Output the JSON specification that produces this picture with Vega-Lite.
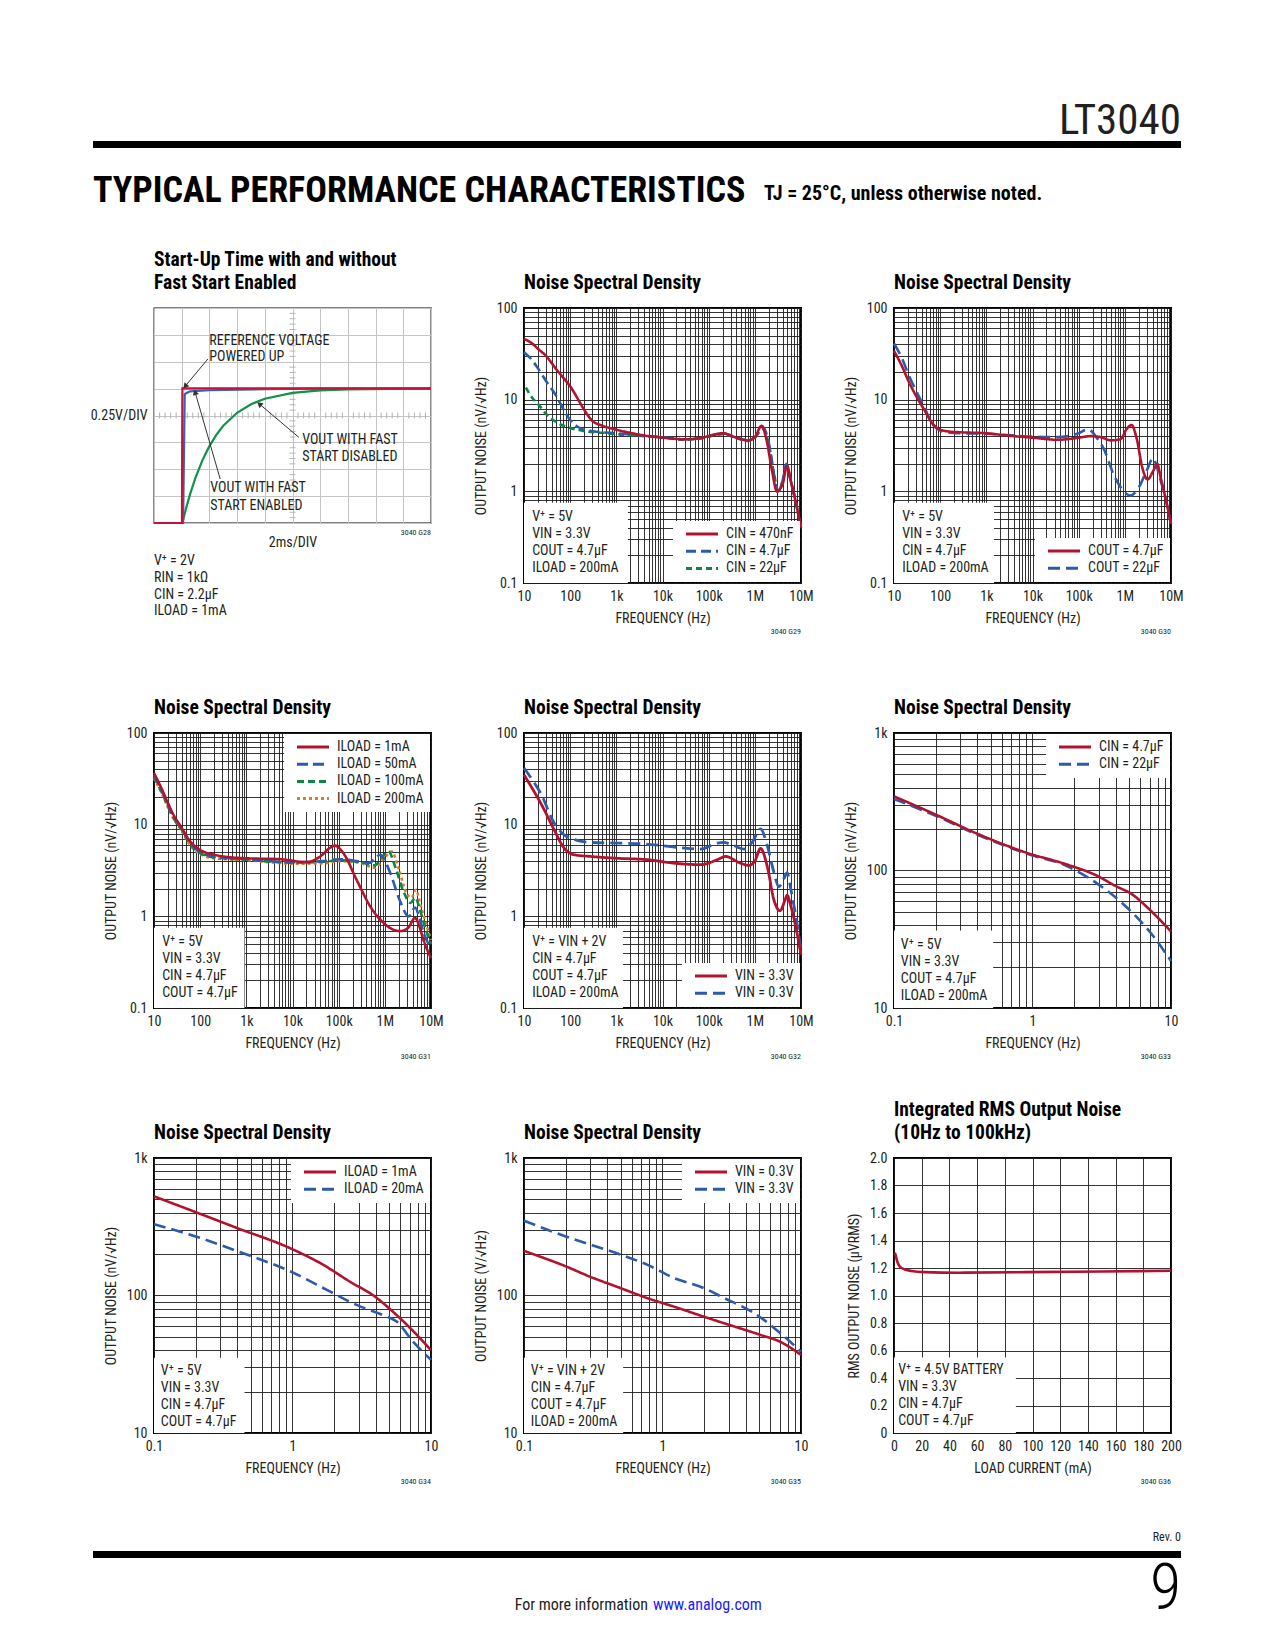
{
"$schema": "https://vega.github.io/schema/vega-lite/v6.json",
"background": "#ffffff",
"padding": {"left": 89, "top": 100, "right": 12, "bottom": 10},
"spacing": 0,
"config": {
 "font": "Liberation Sans Narrow, Roboto Condensed, DejaVu Sans Condensed, Arial Narrow, Roboto, sans-serif",
 "view": {"stroke": null},
 "axis": {"labelFont": "Liberation Sans Narrow, Roboto Condensed, DejaVu Sans Condensed, Arial Narrow, Roboto, sans-serif", "titleFont": "Liberation Sans Narrow, Roboto Condensed, DejaVu Sans Condensed, Arial Narrow, Roboto, sans-serif", "labelFontSize": 14, "titleFontSize": 14, "titleFontWeight": "normal", "labelColor": "#231f20", "titleColor": "#231f20", "domain": false, "ticks": false, "grid": true, "gridColor": "#1e1e1e", "gridWidth": 0.9, "gridOpacity": 1, "labelFlush": false, "labelOverlap": false},
 "title": {"anchor": "start", "frame": "group", "font": "Liberation Sans Narrow, Roboto Condensed, DejaVu Sans Condensed, Arial Narrow, Roboto, sans-serif", "fontSize": 19.5, "fontWeight": "bold", "color": "#000000", "baseline": "bottom", "offset": 8, "lineHeight": 23},
 "legend": {"labelFont": "Liberation Sans Narrow, Roboto Condensed, DejaVu Sans Condensed, Arial Narrow, Roboto, sans-serif", "labelFontSize": 14, "labelColor": "#231f20"},
 "text": {"font": "Liberation Sans Narrow, Roboto Condensed, DejaVu Sans Condensed, Arial Narrow, Roboto, sans-serif", "color": "#231f20"},
 "line": {"strokeCap": "butt"}
},
"datasets": {
 "g28": [
  {"s":"DIS","x":0,"y":0},{"s":"DIS","x":2.05,"y":0},{"s":"DIS","x":2.3,"y":0.129},{"s":"DIS","x":2.6,"y":0.266},{"s":"DIS","x":3,"y":0.423},{"s":"DIS","x":3.5,"y":0.585},{"s":"DIS","x":4,"y":0.715},{"s":"DIS","x":4.5,"y":0.819},{"s":"DIS","x":5,"y":0.904},{"s":"DIS","x":6,"y":1.025},{"s":"DIS","x":7,"y":1.105},{"s":"DIS","x":8,"y":1.156},{"s":"DIS","x":10,"y":1.211},{"s":"DIS","x":12,"y":1.234},{"s":"DIS","x":14,"y":1.243},{"s":"DIS","x":17,"y":1.248},{"s":"DIS","x":20,"y":1.25},
  {"s":"EN","x":0,"y":0},{"s":"EN","x":2.1,"y":0},{"s":"EN","x":2.22,"y":1.2},{"s":"EN","x":2.6,"y":1.225},{"s":"EN","x":4,"y":1.235},{"s":"EN","x":8,"y":1.245},{"s":"EN","x":12,"y":1.25},{"s":"EN","x":20,"y":1.25},
  {"s":"REF","x":0,"y":0},{"s":"REF","x":2.02,"y":0},{"s":"REF","x":2.05,"y":1.253},{"s":"REF","x":20,"y":1.253}
 ],
 "g28tx": [
  {"x":0.4,"y":1},{"x":0.8,"y":1},{"x":1.2,"y":1},{"x":1.6,"y":1},{"x":2.4,"y":1},{"x":2.8,"y":1},{"x":3.2,"y":1},{"x":3.6,"y":1},{"x":4.4,"y":1},{"x":4.8,"y":1},{"x":5.2,"y":1},{"x":5.6,"y":1},{"x":6.4,"y":1},{"x":6.8,"y":1},{"x":7.2,"y":1},{"x":7.6,"y":1},{"x":8.4,"y":1},{"x":8.8,"y":1},{"x":9.2,"y":1},{"x":9.6,"y":1},{"x":10.4,"y":1},{"x":10.8,"y":1},{"x":11.2,"y":1},{"x":11.6,"y":1},{"x":12.4,"y":1},{"x":12.8,"y":1},{"x":13.2,"y":1},{"x":13.6,"y":1},{"x":14.4,"y":1},{"x":14.8,"y":1},{"x":15.2,"y":1},{"x":15.6,"y":1},{"x":16.4,"y":1},{"x":16.8,"y":1},{"x":17.2,"y":1},{"x":17.6,"y":1},{"x":18.4,"y":1},{"x":18.8,"y":1},{"x":19.2,"y":1},{"x":19.6,"y":1}
 ],
 "g28ty": [
  {"x":10,"y":0.05},{"x":10,"y":0.1},{"x":10,"y":0.15},{"x":10,"y":0.2},{"x":10,"y":0.3},{"x":10,"y":0.35},{"x":10,"y":0.4},{"x":10,"y":0.45},{"x":10,"y":0.55},{"x":10,"y":0.6},{"x":10,"y":0.65},{"x":10,"y":0.7},{"x":10,"y":0.8},{"x":10,"y":0.85},{"x":10,"y":0.9},{"x":10,"y":0.95},{"x":10,"y":1.05},{"x":10,"y":1.1},{"x":10,"y":1.15},{"x":10,"y":1.2},{"x":10,"y":1.3},{"x":10,"y":1.35},{"x":10,"y":1.4},{"x":10,"y":1.45},{"x":10,"y":1.55},{"x":10,"y":1.6},{"x":10,"y":1.65},{"x":10,"y":1.7},{"x":10,"y":1.8},{"x":10,"y":1.85},{"x":10,"y":1.9},{"x":10,"y":1.95}
 ],
 "g29": [
  {"s":"CIN = 22µF","x":11,"y":13.5},{"s":"CIN = 22µF","x":15,"y":10.5},{"s":"CIN = 22µF","x":20,"y":9},{"s":"CIN = 22µF","x":30,"y":7},{"s":"CIN = 22µF","x":50,"y":5.7},{"s":"CIN = 22µF","x":100,"y":4.9},{"s":"CIN = 22µF","x":200,"y":4.55},{"s":"CIN = 22µF","x":500,"y":4.35},{"s":"CIN = 22µF","x":1000,"y":4.2},{"s":"CIN = 22µF","x":3000,"y":4.05},{"s":"CIN = 22µF","x":10000,"y":3.85},{"s":"CIN = 22µF","x":30000,"y":3.65},{"s":"CIN = 22µF","x":70000,"y":3.8},{"s":"CIN = 22µF","x":100000,"y":3.95},{"s":"CIN = 22µF","x":200000,"y":4.2},{"s":"CIN = 22µF","x":400000,"y":3.8},{"s":"CIN = 22µF","x":700000,"y":3.55},{"s":"CIN = 22µF","x":1000000,"y":3.85},{"s":"CIN = 22µF","x":1500000,"y":4.8},{"s":"CIN = 22µF","x":2000000,"y":3.3},{"s":"CIN = 22µF","x":2700000,"y":1.4},{"s":"CIN = 22µF","x":3200000,"y":1.0},{"s":"CIN = 22µF","x":4000000,"y":1.3},{"s":"CIN = 22µF","x":4800000,"y":1.9},{"s":"CIN = 22µF","x":6000000,"y":1.3},{"s":"CIN = 22µF","x":8000000,"y":0.7},{"s":"CIN = 22µF","x":10000000,"y":0.4},
  {"s":"CIN = 4.7µF","x":10,"y":33},{"s":"CIN = 4.7µF","x":15,"y":27},{"s":"CIN = 4.7µF","x":20,"y":22},{"s":"CIN = 4.7µF","x":30,"y":16},{"s":"CIN = 4.7µF","x":50,"y":11},{"s":"CIN = 4.7µF","x":70,"y":8},{"s":"CIN = 4.7µF","x":100,"y":6},{"s":"CIN = 4.7µF","x":150,"y":5},{"s":"CIN = 4.7µF","x":200,"y":4.7},{"s":"CIN = 4.7µF","x":400,"y":4.45},{"s":"CIN = 4.7µF","x":1000,"y":4.3},{"s":"CIN = 4.7µF","x":3000,"y":4.1},{"s":"CIN = 4.7µF","x":10000,"y":3.9},{"s":"CIN = 4.7µF","x":30000,"y":3.7},{"s":"CIN = 4.7µF","x":70000,"y":3.8},{"s":"CIN = 4.7µF","x":100000,"y":4.0},{"s":"CIN = 4.7µF","x":200000,"y":4.3},{"s":"CIN = 4.7µF","x":400000,"y":3.85},{"s":"CIN = 4.7µF","x":700000,"y":3.6},{"s":"CIN = 4.7µF","x":1000000,"y":3.9},{"s":"CIN = 4.7µF","x":1500000,"y":5.0},{"s":"CIN = 4.7µF","x":2000000,"y":3.4},{"s":"CIN = 4.7µF","x":2700000,"y":1.4},{"s":"CIN = 4.7µF","x":3200000,"y":1.0},{"s":"CIN = 4.7µF","x":4000000,"y":1.3},{"s":"CIN = 4.7µF","x":4800000,"y":2.0},{"s":"CIN = 4.7µF","x":6000000,"y":1.3},{"s":"CIN = 4.7µF","x":8000000,"y":0.7},{"s":"CIN = 4.7µF","x":10000000,"y":0.4},
  {"s":"CIN = 470nF","x":10,"y":46},{"s":"CIN = 470nF","x":15,"y":41},{"s":"CIN = 470nF","x":20,"y":36},{"s":"CIN = 470nF","x":30,"y":30},{"s":"CIN = 470nF","x":50,"y":21.5},{"s":"CIN = 470nF","x":70,"y":17.5},{"s":"CIN = 470nF","x":100,"y":14},{"s":"CIN = 470nF","x":150,"y":10},{"s":"CIN = 470nF","x":200,"y":7.8},{"s":"CIN = 470nF","x":300,"y":5.9},{"s":"CIN = 470nF","x":500,"y":5.2},{"s":"CIN = 470nF","x":1000,"y":4.7},{"s":"CIN = 470nF","x":2000,"y":4.35},{"s":"CIN = 470nF","x":5000,"y":4.0},{"s":"CIN = 470nF","x":10000,"y":3.85},{"s":"CIN = 470nF","x":30000,"y":3.7},{"s":"CIN = 470nF","x":70000,"y":3.85},{"s":"CIN = 470nF","x":100000,"y":4.0},{"s":"CIN = 470nF","x":200000,"y":4.3},{"s":"CIN = 470nF","x":400000,"y":3.85},{"s":"CIN = 470nF","x":700000,"y":3.6},{"s":"CIN = 470nF","x":1000000,"y":3.9},{"s":"CIN = 470nF","x":1400000,"y":5.2},{"s":"CIN = 470nF","x":1800000,"y":3.6},{"s":"CIN = 470nF","x":2400000,"y":1.6},{"s":"CIN = 470nF","x":3000000,"y":1.0},{"s":"CIN = 470nF","x":4000000,"y":1.2},{"s":"CIN = 470nF","x":5000000,"y":1.9},{"s":"CIN = 470nF","x":6000000,"y":1.3},{"s":"CIN = 470nF","x":8000000,"y":0.7},{"s":"CIN = 470nF","x":10000000,"y":0.4}
 ],
 "g30": [
  {"s":"COUT = 22µF","x":10,"y":41},{"s":"COUT = 22µF","x":15,"y":28},{"s":"COUT = 22µF","x":20,"y":19.5},{"s":"COUT = 22µF","x":30,"y":12.5},{"s":"COUT = 22µF","x":45,"y":8.3},{"s":"COUT = 22µF","x":70,"y":5.3},{"s":"COUT = 22µF","x":100,"y":4.6},{"s":"COUT = 22µF","x":150,"y":4.4},{"s":"COUT = 22µF","x":300,"y":4.3},{"s":"COUT = 22µF","x":1000,"y":4.25},{"s":"COUT = 22µF","x":3000,"y":4.1},{"s":"COUT = 22µF","x":10000,"y":3.95},{"s":"COUT = 22µF","x":35000,"y":3.9},{"s":"COUT = 22µF","x":100000,"y":4.3},{"s":"COUT = 22µF","x":160000,"y":4.75},{"s":"COUT = 22µF","x":250000,"y":3.8},{"s":"COUT = 22µF","x":350000,"y":2.9},{"s":"COUT = 22µF","x":580000,"y":1.5},{"s":"COUT = 22µF","x":950000,"y":1.0},{"s":"COUT = 22µF","x":1300000,"y":0.9},{"s":"COUT = 22µF","x":2000000,"y":1.1},{"s":"COUT = 22µF","x":3000000,"y":1.7},{"s":"COUT = 22µF","x":4100000,"y":2.3},{"s":"COUT = 22µF","x":5000000,"y":1.8},{"s":"COUT = 22µF","x":6000000,"y":1.3},{"s":"COUT = 22µF","x":8000000,"y":0.75},{"s":"COUT = 22µF","x":10000000,"y":0.44},
  {"s":"COUT = 4.7µF","x":10,"y":34},{"s":"COUT = 4.7µF","x":15,"y":23},{"s":"COUT = 4.7µF","x":20,"y":16.5},{"s":"COUT = 4.7µF","x":30,"y":11},{"s":"COUT = 4.7µF","x":45,"y":7.8},{"s":"COUT = 4.7µF","x":70,"y":5.4},{"s":"COUT = 4.7µF","x":100,"y":4.7},{"s":"COUT = 4.7µF","x":150,"y":4.5},{"s":"COUT = 4.7µF","x":300,"y":4.4},{"s":"COUT = 4.7µF","x":1000,"y":4.3},{"s":"COUT = 4.7µF","x":3000,"y":4.05},{"s":"COUT = 4.7µF","x":10000,"y":3.85},{"s":"COUT = 4.7µF","x":35000,"y":3.65},{"s":"COUT = 4.7µF","x":100000,"y":3.85},{"s":"COUT = 4.7µF","x":180000,"y":4.0},{"s":"COUT = 4.7µF","x":300000,"y":3.9},{"s":"COUT = 4.7µF","x":500000,"y":3.6},{"s":"COUT = 4.7µF","x":800000,"y":3.7},{"s":"COUT = 4.7µF","x":1100000,"y":4.8},{"s":"COUT = 4.7µF","x":1400000,"y":5.3},{"s":"COUT = 4.7µF","x":1800000,"y":3.8},{"s":"COUT = 4.7µF","x":2400000,"y":1.8},{"s":"COUT = 4.7µF","x":3100000,"y":1.35},{"s":"COUT = 4.7µF","x":4200000,"y":1.7},{"s":"COUT = 4.7µF","x":5000000,"y":2.0},{"s":"COUT = 4.7µF","x":6000000,"y":1.4},{"s":"COUT = 4.7µF","x":8000000,"y":0.75},{"s":"COUT = 4.7µF","x":10000000,"y":0.44}
 ],
 "g31": [
  {"s":"ILOAD = 200mA","x":10,"y":32},{"s":"ILOAD = 200mA","x":15,"y":21.5},{"s":"ILOAD = 200mA","x":20,"y":15.5},{"s":"ILOAD = 200mA","x":26,"y":11.8},{"s":"ILOAD = 200mA","x":40,"y":8.5},{"s":"ILOAD = 200mA","x":60,"y":6.0},{"s":"ILOAD = 200mA","x":100,"y":4.8},{"s":"ILOAD = 200mA","x":200,"y":4.3},{"s":"ILOAD = 200mA","x":1000,"y":4.1},{"s":"ILOAD = 200mA","x":10000,"y":3.75},{"s":"ILOAD = 200mA","x":50000,"y":3.8},{"s":"ILOAD = 200mA","x":100000,"y":4.0},{"s":"ILOAD = 200mA","x":300000,"y":3.8},{"s":"ILOAD = 200mA","x":600000,"y":3.4},{"s":"ILOAD = 200mA","x":1000000,"y":4.4},{"s":"ILOAD = 200mA","x":1400000,"y":5.1},{"s":"ILOAD = 200mA","x":2000000,"y":3.3},{"s":"ILOAD = 200mA","x":3000000,"y":1.75},{"s":"ILOAD = 200mA","x":3800000,"y":1.6},{"s":"ILOAD = 200mA","x":4700000,"y":1.95},{"s":"ILOAD = 200mA","x":6000000,"y":1.3},{"s":"ILOAD = 200mA","x":8000000,"y":0.8},{"s":"ILOAD = 200mA","x":10000000,"y":0.55},
  {"s":"ILOAD = 100mA","x":10,"y":33},{"s":"ILOAD = 100mA","x":15,"y":22},{"s":"ILOAD = 100mA","x":20,"y":16},{"s":"ILOAD = 100mA","x":26,"y":12},{"s":"ILOAD = 100mA","x":40,"y":8.8},{"s":"ILOAD = 100mA","x":60,"y":6.2},{"s":"ILOAD = 100mA","x":100,"y":4.9},{"s":"ILOAD = 100mA","x":200,"y":4.4},{"s":"ILOAD = 100mA","x":1000,"y":4.15},{"s":"ILOAD = 100mA","x":10000,"y":3.85},{"s":"ILOAD = 100mA","x":50000,"y":3.95},{"s":"ILOAD = 100mA","x":100000,"y":4.1},{"s":"ILOAD = 100mA","x":300000,"y":3.9},{"s":"ILOAD = 100mA","x":600000,"y":3.6},{"s":"ILOAD = 100mA","x":900000,"y":4.5},{"s":"ILOAD = 100mA","x":1200000,"y":5.1},{"s":"ILOAD = 100mA","x":1700000,"y":3.4},{"s":"ILOAD = 100mA","x":2500000,"y":1.9},{"s":"ILOAD = 100mA","x":3600000,"y":1.4},{"s":"ILOAD = 100mA","x":4600000,"y":1.6},{"s":"ILOAD = 100mA","x":5700000,"y":1.2},{"s":"ILOAD = 100mA","x":7500000,"y":0.75},{"s":"ILOAD = 100mA","x":10000000,"y":0.5},
  {"s":"ILOAD = 50mA","x":10,"y":35},{"s":"ILOAD = 50mA","x":15,"y":23},{"s":"ILOAD = 50mA","x":20,"y":16.5},{"s":"ILOAD = 50mA","x":26,"y":12.5},{"s":"ILOAD = 50mA","x":40,"y":9},{"s":"ILOAD = 50mA","x":60,"y":6.4},{"s":"ILOAD = 50mA","x":100,"y":5.0},{"s":"ILOAD = 50mA","x":200,"y":4.5},{"s":"ILOAD = 50mA","x":1000,"y":4.2},{"s":"ILOAD = 50mA","x":10000,"y":3.9},{"s":"ILOAD = 50mA","x":47000,"y":4.0},{"s":"ILOAD = 50mA","x":100000,"y":4.2},{"s":"ILOAD = 50mA","x":245000,"y":4.0},{"s":"ILOAD = 50mA","x":440000,"y":3.8},{"s":"ILOAD = 50mA","x":800000,"y":4.7},{"s":"ILOAD = 50mA","x":1300000,"y":3.0},{"s":"ILOAD = 50mA","x":2100000,"y":1.5},{"s":"ILOAD = 50mA","x":3300000,"y":1.0},{"s":"ILOAD = 50mA","x":4500000,"y":1.25},{"s":"ILOAD = 50mA","x":5500000,"y":1.0},{"s":"ILOAD = 50mA","x":6800000,"y":0.68},{"s":"ILOAD = 50mA","x":10000000,"y":0.45},
  {"s":"ILOAD = 1mA","x":10,"y":36.6},{"s":"ILOAD = 1mA","x":15,"y":24},{"s":"ILOAD = 1mA","x":20,"y":17.2},{"s":"ILOAD = 1mA","x":26,"y":13},{"s":"ILOAD = 1mA","x":40,"y":9.2},{"s":"ILOAD = 1mA","x":60,"y":6.6},{"s":"ILOAD = 1mA","x":100,"y":5.3},{"s":"ILOAD = 1mA","x":200,"y":4.7},{"s":"ILOAD = 1mA","x":316,"y":4.5},{"s":"ILOAD = 1mA","x":1000,"y":4.3},{"s":"ILOAD = 1mA","x":5400,"y":4.2},{"s":"ILOAD = 1mA","x":20000,"y":3.9},{"s":"ILOAD = 1mA","x":40000,"y":4.5},{"s":"ILOAD = 1mA","x":65000,"y":5.6},{"s":"ILOAD = 1mA","x":83000,"y":5.9},{"s":"ILOAD = 1mA","x":126000,"y":4.9},{"s":"ILOAD = 1mA","x":245000,"y":2.5},{"s":"ILOAD = 1mA","x":480000,"y":1.29},{"s":"ILOAD = 1mA","x":930000,"y":0.85},{"s":"ILOAD = 1mA","x":2100000,"y":0.69},{"s":"ILOAD = 1mA","x":3200000,"y":0.75},{"s":"ILOAD = 1mA","x":4500000,"y":0.96},{"s":"ILOAD = 1mA","x":5500000,"y":0.8},{"s":"ILOAD = 1mA","x":6800000,"y":0.56},{"s":"ILOAD = 1mA","x":10000000,"y":0.35}
 ],
 "g32": [
  {"s":"VIN = 0.3V","x":10,"y":41.5},{"s":"VIN = 0.3V","x":15,"y":31},{"s":"VIN = 0.3V","x":23,"y":22},{"s":"VIN = 0.3V","x":45,"y":10.4},{"s":"VIN = 0.3V","x":73,"y":7.8},{"s":"VIN = 0.3V","x":121,"y":6.9},{"s":"VIN = 0.3V","x":278,"y":6.4},{"s":"VIN = 0.3V","x":1000,"y":6.3},{"s":"VIN = 0.3V","x":3400,"y":6.2},{"s":"VIN = 0.3V","x":10000,"y":5.9},{"s":"VIN = 0.3V","x":25000,"y":5.6},{"s":"VIN = 0.3V","x":67000,"y":5.4},{"s":"VIN = 0.3V","x":155000,"y":6.3},{"s":"VIN = 0.3V","x":210000,"y":6.4},{"s":"VIN = 0.3V","x":355000,"y":5.9},{"s":"VIN = 0.3V","x":590000,"y":5.4},{"s":"VIN = 0.3V","x":890000,"y":6.5},{"s":"VIN = 0.3V","x":1330000,"y":9.0},{"s":"VIN = 0.3V","x":1860000,"y":5.9},{"s":"VIN = 0.3V","x":2600000,"y":3.0},{"s":"VIN = 0.3V","x":3300000,"y":2.1},{"s":"VIN = 0.3V","x":4300000,"y":2.6},{"s":"VIN = 0.3V","x":5000000,"y":3.0},{"s":"VIN = 0.3V","x":6000000,"y":2.0},{"s":"VIN = 0.3V","x":8000000,"y":0.9},{"s":"VIN = 0.3V","x":10000000,"y":0.42},
  {"s":"VIN = 3.3V","x":10,"y":35},{"s":"VIN = 3.3V","x":15,"y":25},{"s":"VIN = 3.3V","x":23,"y":17.2},{"s":"VIN = 3.3V","x":45,"y":8.8},{"s":"VIN = 3.3V","x":73,"y":5.6},{"s":"VIN = 3.3V","x":121,"y":4.7},{"s":"VIN = 3.3V","x":278,"y":4.5},{"s":"VIN = 3.3V","x":1000,"y":4.3},{"s":"VIN = 3.3V","x":4700,"y":4.15},{"s":"VIN = 3.3V","x":18000,"y":3.8},{"s":"VIN = 3.3V","x":67000,"y":3.66},{"s":"VIN = 3.3V","x":155000,"y":4.15},{"s":"VIN = 3.3V","x":230000,"y":4.5},{"s":"VIN = 3.3V","x":490000,"y":3.8},{"s":"VIN = 3.3V","x":740000,"y":3.6},{"s":"VIN = 3.3V","x":1000000,"y":4.0},{"s":"VIN = 3.3V","x":1330000,"y":5.5},{"s":"VIN = 3.3V","x":1860000,"y":3.5},{"s":"VIN = 3.3V","x":2600000,"y":1.5},{"s":"VIN = 3.3V","x":3500000,"y":1.15},{"s":"VIN = 3.3V","x":4500000,"y":1.5},{"s":"VIN = 3.3V","x":5000000,"y":1.7},{"s":"VIN = 3.3V","x":6000000,"y":1.3},{"s":"VIN = 3.3V","x":8000000,"y":0.7},{"s":"VIN = 3.3V","x":10000000,"y":0.38}
 ],
 "g33": [
  {"s":"CIN = 22µF","x":0.1,"y":331},{"s":"CIN = 22µF","x":0.2,"y":250},{"s":"CIN = 22µF","x":0.4,"y":182},{"s":"CIN = 22µF","x":0.9,"y":133},{"s":"CIN = 22µF","x":1.8,"y":107},{"s":"CIN = 22µF","x":2.9,"y":81},{"s":"CIN = 22µF","x":4.7,"y":55},{"s":"CIN = 22µF","x":7,"y":36},{"s":"CIN = 22µF","x":10,"y":22},
  {"s":"CIN = 4.7µF","x":0.1,"y":346},{"s":"CIN = 4.7µF","x":0.2,"y":255},{"s":"CIN = 4.7µF","x":0.4,"y":185},{"s":"CIN = 4.7µF","x":0.9,"y":135},{"s":"CIN = 4.7µF","x":1.8,"y":110},{"s":"CIN = 4.7µF","x":2.9,"y":92},{"s":"CIN = 4.7µF","x":4,"y":77},{"s":"CIN = 4.7µF","x":5.25,"y":67},{"s":"CIN = 4.7µF","x":7,"y":52},{"s":"CIN = 4.7µF","x":10,"y":36}
 ],
 "g34": [
  {"s":"ILOAD = 20mA","x":0.1,"y":330},{"s":"ILOAD = 20mA","x":0.2,"y":269},{"s":"ILOAD = 20mA","x":0.4,"y":210},{"s":"ILOAD = 20mA","x":0.96,"y":150},{"s":"ILOAD = 20mA","x":1.86,"y":107},{"s":"ILOAD = 20mA","x":2.9,"y":85.5},{"s":"ILOAD = 20mA","x":4.5,"y":72},{"s":"ILOAD = 20mA","x":5.65,"y":64.6},{"s":"ILOAD = 20mA","x":7.45,"y":46},{"s":"ILOAD = 20mA","x":10,"y":34},
  {"s":"ILOAD = 1mA","x":0.1,"y":526},{"s":"ILOAD = 1mA","x":0.2,"y":404},{"s":"ILOAD = 1mA","x":0.4,"y":309},{"s":"ILOAD = 1mA","x":0.96,"y":221},{"s":"ILOAD = 1mA","x":1.67,"y":167},{"s":"ILOAD = 1mA","x":2.6,"y":126},{"s":"ILOAD = 1mA","x":3.84,"y":100},{"s":"ILOAD = 1mA","x":5.65,"y":72},{"s":"ILOAD = 1mA","x":7.45,"y":55},{"s":"ILOAD = 1mA","x":10,"y":40}
 ],
 "g35": [
  {"s":"VIN = 3.3V","x":0.1,"y":350},{"s":"VIN = 3.3V","x":0.2,"y":269},{"s":"VIN = 3.3V","x":0.5,"y":198},{"s":"VIN = 3.3V","x":0.78,"y":167},{"s":"VIN = 3.3V","x":1.21,"y":134},{"s":"VIN = 3.3V","x":2,"y":113},{"s":"VIN = 3.3V","x":2.8,"y":95.6},{"s":"VIN = 3.3V","x":4.4,"y":76.4},{"s":"VIN = 3.3V","x":5.4,"y":66.5},{"s":"VIN = 3.3V","x":7.1,"y":53.2},{"s":"VIN = 3.3V","x":10,"y":39},
  {"s":"VIN = 0.3V","x":0.1,"y":211},{"s":"VIN = 0.3V","x":0.2,"y":163},{"s":"VIN = 0.3V","x":0.3,"y":137},{"s":"VIN = 0.3V","x":0.5,"y":113},{"s":"VIN = 0.3V","x":0.78,"y":95.6},{"s":"VIN = 0.3V","x":1.21,"y":83},{"s":"VIN = 0.3V","x":2,"y":70},{"s":"VIN = 0.3V","x":3.3,"y":59.5},{"s":"VIN = 0.3V","x":5.1,"y":51.7},{"s":"VIN = 0.3V","x":7.1,"y":46},{"s":"VIN = 0.3V","x":10,"y":37}
 ],
 "g36": [
  {"x":0.5,"y":1.31},{"x":1,"y":1.3},{"x":2.4,"y":1.244},{"x":5.4,"y":1.2},{"x":12.7,"y":1.178},{"x":22,"y":1.17},{"x":47,"y":1.166},{"x":96,"y":1.17},{"x":150,"y":1.175},{"x":200,"y":1.18}
 ]
},
"vconcat": [
 {"width": 1088, "height": 7, "data": {"values": []}, "mark": "point", "view": {"fill": "#000000", "stroke": null},
  "title": {"text": "LT3040", "anchor": "end", "fontSize": 43, "fontWeight": "normal", "color": "#231f20", "baseline": "bottom", "offset": -45}},
 {"width": 1, "height": 25, "data": {"values": []}, "mark": "point", "view": {"stroke": null}},
 {"hconcat": [
   {"width": 671, "height": 1, "data": {"values": []}, "mark": "point", "view": {"stroke": null},
    "title": {"text": "TYPICAL PERFORMANCE CHARACTERISTICS", "anchor": "start", "fontSize": 36, "fontWeight": "bold", "color": "#000000", "baseline": "bottom", "offset": -36}},
   {"width": 400, "height": 1, "data": {"values": []}, "mark": "point", "view": {"stroke": null},
    "title": {"text": "TJ = 25°C, unless otherwise noted.", "anchor": "start", "fontSize": 20, "fontWeight": "bold", "color": "#000000", "baseline": "bottom", "offset": -14}}
  ], "spacing": 0, "bounds": "flush"},
 {"width": 1, "height": 37, "data": {"values": []}, "mark": "point", "view": {"stroke": null}},
 {"hconcat": [
   {"width": 1, "height": 1, "data": {"values": []}, "mark": "point", "view": {"stroke": null}},
   {"concat": [
    {"width": 277, "height": 215, "view": {"stroke": "#000000", "strokeWidth": 1.3},
     "title": {"text": ["Start-Up Time with and without", "Fast Start Enabled"], "offset": 15},
     "encoding": {
      "x": {"field": "x", "type": "quantitative", "scale": {"domain": [0, 20], "nice": false, "zero": false}, "axis": {"title": "2ms/DIV", "values": [0,2,4,6,8,10,12,14,16,18,20], "labels": false, "gridColor": "#c4c4c4", "gridWidth": 1, "titlePadding": 12}},
      "y": {"field": "y", "type": "quantitative", "scale": {"domain": [0, 2], "nice": false, "zero": false}, "axis": {"title": "0.25V/DIV", "values": [0,0.25,0.5,0.75,1,1.25,1.5,1.75,2], "labels": false, "gridColor": "#c4c4c4", "gridWidth": 1, "titleAngle": 0, "titleAlign": "right", "titleBaseline": "middle", "titlePadding": 7}}
     },
     "layer": [
      {"data": {"name": "g28tx"}, "mark": {"type": "tick", "orient": "vertical", "size": 6, "thickness": 1, "color": "#b4b4b4", "opacity": 1}, "encoding": {}},
      {"data": {"name": "g28ty"}, "mark": {"type": "tick", "orient": "horizontal", "size": 6, "thickness": 1, "color": "#b4b4b4", "opacity": 1}, "encoding": {}},
      {"data": {"name": "g28"}, "mark": {"type": "line", "strokeWidth": 2.2},
       "encoding": {"color": {"field": "s", "type": "nominal", "scale": {"domain": ["DIS", "EN", "REF"], "range": ["#11924A", "#3A62B5", "#C4123A"]}, "legend": null}}},
      {"data": {"values": [{"x":3.99,"y":1.693,"t":"REFERENCE VOLTAGE"},{"x":3.99,"y":1.544,"t":"POWERED UP"},{"x":10.7,"y":0.772,"t":"VOUT WITH FAST"},{"x":10.7,"y":0.611,"t":"START DISABLED"},{"x":4.06,"y":0.323,"t":"VOUT WITH FAST"},{"x":4.06,"y":0.161,"t":"START ENABLED"}]},
       "mark": {"type": "text", "align": "left", "baseline": "middle", "fontSize": 14},
       "encoding": {"text": {"field": "t"}}},
      {"data": {"values": [{"x":3.89,"y":1.526,"x2":2.25,"y2":1.272},{"x":10.46,"y":0.797,"x2":7.61,"y2":1.107},{"x":4.78,"y":0.409,"x2":2.97,"y2":1.216}]},
       "mark": {"type": "rule", "color": "#333333", "strokeWidth": 1},
       "encoding": {"x2": {"field": "x2"}, "y2": {"field": "y2"}}},
      {"data": {"values": [{"x":2.25,"y":1.272}]}, "mark": {"type": "point", "shape": "triangle-up", "filled": true, "size": 40, "angle": 220, "color": "#333333", "opacity": 1}, "encoding": {}},
      {"data": {"values": [{"x":7.61,"y":1.107}]}, "mark": {"type": "point", "shape": "triangle-up", "filled": true, "size": 40, "angle": 310, "color": "#333333", "opacity": 1}, "encoding": {}},
      {"data": {"values": [{"x":2.97,"y":1.216}]}, "mark": {"type": "point", "shape": "triangle-up", "filled": true, "size": 40, "angle": 344, "color": "#333333", "opacity": 1}, "encoding": {}},
      {"data": {"values": [{"x":0,"y":-0.29,"t":"V⁺ = 2V\nRIN = 1kΩ\nCIN = 2.2µF\nILOAD = 1mA"}]},
       "mark": {"type": "text", "align": "left", "baseline": "top", "fontSize": 14, "lineHeight": 16.7, "lineBreak": "\n"},
       "encoding": {"text": {"field": "t"}}},
      {"data": {"values": [{"x":20,"y":-0.093,"t":"3040 G28"}]},
       "mark": {"type": "text", "align": "right", "baseline": "middle", "fontSize": 8},
       "encoding": {"text": {"field": "t"}}}
     ]},
    {"width": 277, "height": 275, "view": {"stroke": "#000000", "strokeWidth": 2},
     "title": "Noise Spectral Density",
     "encoding": {
      "x": {"field": "x", "type": "quantitative", "scale": {"type": "log", "domain": [10, 10000000], "nice": false}, "axis": {"title": "FREQUENCY (Hz)", "values": [10,20,30,40,50,60,70,80,90,100,200,300,400,500,600,700,800,900,1000,2000,3000,4000,5000,6000,7000,8000,9000,10000,20000,30000,40000,50000,60000,70000,80000,90000,100000,200000,300000,400000,500000,600000,700000,800000,900000,1000000,2000000,3000000,4000000,5000000,6000000,7000000,8000000,9000000,10000000], "labelExpr": "datum.value==10?'10':datum.value==100?'100':datum.value==1000?'1k':datum.value==10000?'10k':datum.value==100000?'100k':datum.value==1000000?'1M':datum.value==10000000?'10M':''", "labelPadding": 6, "titlePadding": 8}},
      "y": {"field": "y", "type": "quantitative", "scale": {"type": "log", "domain": [0.1, 100], "nice": false}, "axis": {"title": "OUTPUT NOISE (nV/√Hz)", "values": [0.1,0.2,0.3,0.4,0.5,0.6,0.7,0.8,0.9,1,2,3,4,5,6,7,8,9,10,20,30,40,50,60,70,80,90,100], "labelExpr": "datum.value==0.1?'0.1':datum.value==1?'1':datum.value==10?'10':datum.value==100?'100':''", "labelPadding": 7, "titlePadding": 8}}
     },
     "layer": [
      {"data": {"values": [{"x": 10, "x2": 1780, "y": 0.1, "y2": 0.75}]}, "mark": {"type": "rect", "color": "#ffffff"},
       "encoding": {"x2": {"field": "x2"}, "y2": {"field": "y2"}}},
      {"data": {"name": "g29"}, "mark": {"type": "line", "interpolate": "monotone", "strokeWidth": 2.6},
       "encoding": {
        "color": {"field": "s", "type": "nominal", "scale": {"domain": ["CIN = 470nF", "CIN = 4.7µF", "CIN = 22µF"], "range": ["#B3122E", "#2D5BAA", "#0B8743"]},
         "legend": {"orient": "bottom-right", "title": null, "fillColor": "#ffffff", "padding": 6, "offset": 1, "symbolType": "M0,0H8", "symbolSize": 64, "symbolStrokeWidth": 3, "labelOffset": 33, "rowPadding": 3.2, "labelFontSize": 14, "labelLimit": 0}},
        "strokeDash": {"field": "s", "type": "nominal", "scale": {"domain": ["CIN = 470nF", "CIN = 4.7µF", "CIN = 22µF"], "range": [[1,0],[10,5],[6,4]]}}}},
      {"data": {"values": [{"x": 15, "y": 0.63, "t": "V⁺ = 5V\nVIN = 3.3V\nCOUT = 4.7µF\nILOAD = 200mA"}]},
       "mark": {"type": "text", "align": "left", "baseline": "top", "fontSize": 14, "lineHeight": 17, "lineBreak": "\n"},
       "encoding": {"text": {"field": "t"}}},
      {"data": {"values": [{"x": 10000000, "y": 0.029, "t": "3040 G29"}]},
       "mark": {"type": "text", "align": "right", "baseline": "middle", "fontSize": 8},
       "encoding": {"text": {"field": "t"}}}
     ]},
    {"width": 277, "height": 275, "view": {"stroke": "#000000", "strokeWidth": 2},
     "title": "Noise Spectral Density",
     "encoding": {
      "x": {"field": "x", "type": "quantitative", "scale": {"type": "log", "domain": [10, 10000000], "nice": false}, "axis": {"title": "FREQUENCY (Hz)", "values": [10,20,30,40,50,60,70,80,90,100,200,300,400,500,600,700,800,900,1000,2000,3000,4000,5000,6000,7000,8000,9000,10000,20000,30000,40000,50000,60000,70000,80000,90000,100000,200000,300000,400000,500000,600000,700000,800000,900000,1000000,2000000,3000000,4000000,5000000,6000000,7000000,8000000,9000000,10000000], "labelExpr": "datum.value==10?'10':datum.value==100?'100':datum.value==1000?'1k':datum.value==10000?'10k':datum.value==100000?'100k':datum.value==1000000?'1M':datum.value==10000000?'10M':''", "labelPadding": 6, "titlePadding": 8}},
      "y": {"field": "y", "type": "quantitative", "scale": {"type": "log", "domain": [0.1, 100], "nice": false}, "axis": {"title": "OUTPUT NOISE (nV/√Hz)", "values": [0.1,0.2,0.3,0.4,0.5,0.6,0.7,0.8,0.9,1,2,3,4,5,6,7,8,9,10,20,30,40,50,60,70,80,90,100], "labelExpr": "datum.value==0.1?'0.1':datum.value==1?'1':datum.value==10?'10':datum.value==100?'100':''", "labelPadding": 7, "titlePadding": 8}}
     },
     "layer": [
      {"data": {"values": [{"x": 10, "x2": 1470, "y": 0.1, "y2": 0.75}]}, "mark": {"type": "rect", "color": "#ffffff"},
       "encoding": {"x2": {"field": "x2"}, "y2": {"field": "y2"}}},
      {"data": {"name": "g30"}, "mark": {"type": "line", "interpolate": "monotone", "strokeWidth": 2.6},
       "encoding": {
        "color": {"field": "s", "type": "nominal", "scale": {"domain": ["COUT = 4.7µF", "COUT = 22µF"], "range": ["#B3122E", "#2D5BAA"]},
         "legend": {"orient": "bottom-right", "title": null, "fillColor": "#ffffff", "padding": 6, "offset": 1, "symbolType": "M0,0H8", "symbolSize": 64, "symbolStrokeWidth": 3, "labelOffset": 33, "rowPadding": 3.2, "labelFontSize": 14, "labelLimit": 0}},
        "strokeDash": {"field": "s", "type": "nominal", "scale": {"domain": ["COUT = 4.7µF", "COUT = 22µF"], "range": [[1,0],[12,6]]}}}},
      {"data": {"values": [{"x": 15, "y": 0.63, "t": "V⁺ = 5V\nVIN = 3.3V\nCIN = 4.7µF\nILOAD = 200mA"}]},
       "mark": {"type": "text", "align": "left", "baseline": "top", "fontSize": 14, "lineHeight": 17, "lineBreak": "\n"},
       "encoding": {"text": {"field": "t"}}},
      {"data": {"values": [{"x": 10000000, "y": 0.029, "t": "3040 G30"}]},
       "mark": {"type": "text", "align": "right", "baseline": "middle", "fontSize": 8},
       "encoding": {"text": {"field": "t"}}}
     ]},
    {"width": 277, "height": 275, "view": {"stroke": "#000000", "strokeWidth": 2},
     "title": "Noise Spectral Density",
     "encoding": {
      "x": {"field": "x", "type": "quantitative", "scale": {"type": "log", "domain": [10, 10000000], "nice": false}, "axis": {"title": "FREQUENCY (Hz)", "values": [10,20,30,40,50,60,70,80,90,100,200,300,400,500,600,700,800,900,1000,2000,3000,4000,5000,6000,7000,8000,9000,10000,20000,30000,40000,50000,60000,70000,80000,90000,100000,200000,300000,400000,500000,600000,700000,800000,900000,1000000,2000000,3000000,4000000,5000000,6000000,7000000,8000000,9000000,10000000], "labelExpr": "datum.value==10?'10':datum.value==100?'100':datum.value==1000?'1k':datum.value==10000?'10k':datum.value==100000?'100k':datum.value==1000000?'1M':datum.value==10000000?'10M':''", "labelPadding": 6, "titlePadding": 8}},
      "y": {"field": "y", "type": "quantitative", "scale": {"type": "log", "domain": [0.1, 100], "nice": false}, "axis": {"title": "OUTPUT NOISE (nV/√Hz)", "values": [0.1,0.2,0.3,0.4,0.5,0.6,0.7,0.8,0.9,1,2,3,4,5,6,7,8,9,10,20,30,40,50,60,70,80,90,100], "labelExpr": "datum.value==0.1?'0.1':datum.value==1?'1':datum.value==10?'10':datum.value==100?'100':''", "labelPadding": 7, "titlePadding": 8}}
     },
     "layer": [
      {"data": {"values": [{"x": 10, "x2": 910, "y": 0.1, "y2": 0.75}]}, "mark": {"type": "rect", "color": "#ffffff"},
       "encoding": {"x2": {"field": "x2"}, "y2": {"field": "y2"}}},
      {"data": {"name": "g31"}, "mark": {"type": "line", "interpolate": "monotone", "strokeWidth": 2.6},
       "encoding": {
        "color": {"field": "s", "type": "nominal", "scale": {"domain": ["ILOAD = 1mA", "ILOAD = 50mA", "ILOAD = 100mA", "ILOAD = 200mA"], "range": ["#B3122E", "#2D5BAA", "#0B8743", "#DD7A2C"]},
         "legend": {"orient": "top-right", "title": null, "fillColor": "#ffffff", "padding": 6, "offset": 1, "symbolType": "M0,0H8", "symbolSize": 64, "symbolStrokeWidth": 3, "labelOffset": 33, "rowPadding": 3.2, "labelFontSize": 14, "labelLimit": 0}},
        "strokeDash": {"field": "s", "type": "nominal", "scale": {"domain": ["ILOAD = 1mA", "ILOAD = 50mA", "ILOAD = 100mA", "ILOAD = 200mA"], "range": [[1,0],[11,5],[7,4],[3,3]]}}}},
      {"data": {"values": [{"x": 15, "y": 0.63, "t": "V⁺ = 5V\nVIN = 3.3V\nCIN = 4.7µF\nCOUT = 4.7µF"}]},
       "mark": {"type": "text", "align": "left", "baseline": "top", "fontSize": 14, "lineHeight": 17, "lineBreak": "\n"},
       "encoding": {"text": {"field": "t"}}},
      {"data": {"values": [{"x": 10000000, "y": 0.029, "t": "3040 G31"}]},
       "mark": {"type": "text", "align": "right", "baseline": "middle", "fontSize": 8},
       "encoding": {"text": {"field": "t"}}}
     ]},
    {"width": 277, "height": 275, "view": {"stroke": "#000000", "strokeWidth": 2},
     "title": "Noise Spectral Density",
     "encoding": {
      "x": {"field": "x", "type": "quantitative", "scale": {"type": "log", "domain": [10, 10000000], "nice": false}, "axis": {"title": "FREQUENCY (Hz)", "values": [10,20,30,40,50,60,70,80,90,100,200,300,400,500,600,700,800,900,1000,2000,3000,4000,5000,6000,7000,8000,9000,10000,20000,30000,40000,50000,60000,70000,80000,90000,100000,200000,300000,400000,500000,600000,700000,800000,900000,1000000,2000000,3000000,4000000,5000000,6000000,7000000,8000000,9000000,10000000], "labelExpr": "datum.value==10?'10':datum.value==100?'100':datum.value==1000?'1k':datum.value==10000?'10k':datum.value==100000?'100k':datum.value==1000000?'1M':datum.value==10000000?'10M':''", "labelPadding": 6, "titlePadding": 8}},
      "y": {"field": "y", "type": "quantitative", "scale": {"type": "log", "domain": [0.1, 100], "nice": false}, "axis": {"title": "OUTPUT NOISE (nV/√Hz)", "values": [0.1,0.2,0.3,0.4,0.5,0.6,0.7,0.8,0.9,1,2,3,4,5,6,7,8,9,10,20,30,40,50,60,70,80,90,100], "labelExpr": "datum.value==0.1?'0.1':datum.value==1?'1':datum.value==10?'10':datum.value==100?'100':''", "labelPadding": 7, "titlePadding": 8}}
     },
     "layer": [
      {"data": {"values": [{"x": 10, "x2": 1390, "y": 0.1, "y2": 0.75}]}, "mark": {"type": "rect", "color": "#ffffff"},
       "encoding": {"x2": {"field": "x2"}, "y2": {"field": "y2"}}},
      {"data": {"name": "g32"}, "mark": {"type": "line", "interpolate": "monotone", "strokeWidth": 2.8},
       "encoding": {
        "color": {"field": "s", "type": "nominal", "scale": {"domain": ["VIN = 3.3V", "VIN = 0.3V"], "range": ["#B3122E", "#2D5BAA"]},
         "legend": {"orient": "bottom-right", "title": null, "fillColor": "#ffffff", "padding": 6, "offset": 1, "symbolType": "M0,0H8", "symbolSize": 64, "symbolStrokeWidth": 3, "labelOffset": 33, "rowPadding": 3.2, "labelFontSize": 14, "labelLimit": 0}},
        "strokeDash": {"field": "s", "type": "nominal", "scale": {"domain": ["VIN = 3.3V", "VIN = 0.3V"], "range": [[1,0],[12,6]]}}}},
      {"data": {"values": [{"x": 15, "y": 0.63, "t": "V⁺ = VIN + 2V\nCIN = 4.7µF\nCOUT = 4.7µF\nILOAD = 200mA"}]},
       "mark": {"type": "text", "align": "left", "baseline": "top", "fontSize": 14, "lineHeight": 17, "lineBreak": "\n"},
       "encoding": {"text": {"field": "t"}}},
      {"data": {"values": [{"x": 10000000, "y": 0.029, "t": "3040 G32"}]},
       "mark": {"type": "text", "align": "right", "baseline": "middle", "fontSize": 8},
       "encoding": {"text": {"field": "t"}}}
     ]},
    {"width": 277, "height": 275, "view": {"stroke": "#000000", "strokeWidth": 2},
     "title": "Noise Spectral Density",
     "encoding": {
      "x": {"field": "x", "type": "quantitative", "scale": {"type": "log", "domain": [0.1, 10], "nice": false}, "axis": {"title": "FREQUENCY (Hz)", "values": [0.1,0.2,0.3,0.4,0.5,0.6,0.7,0.8,0.9,1,2,3,4,5,6,7,8,9,10], "labelExpr": "datum.value==0.1?'0.1':datum.value==1?'1':datum.value==10?'10':''", "labelPadding": 6, "titlePadding": 8}},
      "y": {"field": "y", "type": "quantitative", "scale": {"type": "log", "domain": [10, 1000], "nice": false}, "axis": {"title": "OUTPUT NOISE (nV/√Hz)", "values": [10,20,30,40,50,60,70,80,90,100,200,300,400,500,600,700,800,900,1000], "labelExpr": "datum.value==10?'10':datum.value==100?'100':datum.value==1000?'1k':''", "labelPadding": 7, "titlePadding": 8}}
     },
     "layer": [
      {"data": {"values": [{"x": 0.1, "x2": 0.52, "y": 10, "y2": 36.6}]}, "mark": {"type": "rect", "color": "#ffffff"},
       "encoding": {"x2": {"field": "x2"}, "y2": {"field": "y2"}}},
      {"data": {"name": "g33"}, "mark": {"type": "line", "interpolate": "monotone", "strokeWidth": 2.6},
       "encoding": {
        "color": {"field": "s", "type": "nominal", "scale": {"domain": ["CIN = 4.7µF", "CIN = 22µF"], "range": ["#B3122E", "#2D5BAA"]},
         "legend": {"orient": "top-right", "title": null, "fillColor": "#ffffff", "padding": 6, "offset": 1, "symbolType": "M0,0H8", "symbolSize": 64, "symbolStrokeWidth": 3, "labelOffset": 33, "rowPadding": 3.2, "labelFontSize": 14, "labelLimit": 0}},
        "strokeDash": {"field": "s", "type": "nominal", "scale": {"domain": ["CIN = 4.7µF", "CIN = 22µF"], "range": [[1,0],[12,6]]}}}},
      {"data": {"values": [{"x": 0.112, "y": 32.5, "t": "V⁺ = 5V\nVIN = 3.3V\nCOUT = 4.7µF\nILOAD = 200mA"}]},
       "mark": {"type": "text", "align": "left", "baseline": "top", "fontSize": 14, "lineHeight": 17, "lineBreak": "\n"},
       "encoding": {"text": {"field": "t"}}},
      {"data": {"values": [{"x": 10, "y": 4.4, "t": "3040 G33"}]},
       "mark": {"type": "text", "align": "right", "baseline": "middle", "fontSize": 8},
       "encoding": {"text": {"field": "t"}}}
     ]},
    {"width": 277, "height": 275, "view": {"stroke": "#000000", "strokeWidth": 2},
     "title": "Noise Spectral Density",
     "encoding": {
      "x": {"field": "x", "type": "quantitative", "scale": {"type": "log", "domain": [0.1, 10], "nice": false}, "axis": {"title": "FREQUENCY (Hz)", "values": [0.1,0.2,0.3,0.4,0.5,0.6,0.7,0.8,0.9,1,2,3,4,5,6,7,8,9,10], "labelExpr": "datum.value==0.1?'0.1':datum.value==1?'1':datum.value==10?'10':''", "labelPadding": 6, "titlePadding": 8}},
      "y": {"field": "y", "type": "quantitative", "scale": {"type": "log", "domain": [10, 1000], "nice": false}, "axis": {"title": "OUTPUT NOISE (nV/√Hz)", "values": [10,20,30,40,50,60,70,80,90,100,200,300,400,500,600,700,800,900,1000], "labelExpr": "datum.value==10?'10':datum.value==100?'100':datum.value==1000?'1k':''", "labelPadding": 7, "titlePadding": 8}}
     },
     "layer": [
      {"data": {"values": [{"x": 0.1, "x2": 0.45, "y": 10, "y2": 35.3}]}, "mark": {"type": "rect", "color": "#ffffff"},
       "encoding": {"x2": {"field": "x2"}, "y2": {"field": "y2"}}},
      {"data": {"name": "g34"}, "mark": {"type": "line", "interpolate": "monotone", "strokeWidth": 2.6},
       "encoding": {
        "color": {"field": "s", "type": "nominal", "scale": {"domain": ["ILOAD = 1mA", "ILOAD = 20mA"], "range": ["#B3122E", "#2D5BAA"]},
         "legend": {"orient": "top-right", "title": null, "fillColor": "#ffffff", "padding": 6, "offset": 1, "symbolType": "M0,0H8", "symbolSize": 64, "symbolStrokeWidth": 3, "labelOffset": 33, "rowPadding": 3.2, "labelFontSize": 14, "labelLimit": 0}},
        "strokeDash": {"field": "s", "type": "nominal", "scale": {"domain": ["ILOAD = 1mA", "ILOAD = 20mA"], "range": [[1,0],[12,6]]}}}},
      {"data": {"values": [{"x": 0.112, "y": 31.5, "t": "V⁺ = 5V\nVIN = 3.3V\nCIN = 4.7µF\nCOUT = 4.7µF"}]},
       "mark": {"type": "text", "align": "left", "baseline": "top", "fontSize": 14, "lineHeight": 17, "lineBreak": "\n"},
       "encoding": {"text": {"field": "t"}}},
      {"data": {"values": [{"x": 10, "y": 4.4, "t": "3040 G34"}]},
       "mark": {"type": "text", "align": "right", "baseline": "middle", "fontSize": 8},
       "encoding": {"text": {"field": "t"}}}
     ]},
    {"width": 277, "height": 275, "view": {"stroke": "#000000", "strokeWidth": 2},
     "title": "Noise Spectral Density",
     "encoding": {
      "x": {"field": "x", "type": "quantitative", "scale": {"type": "log", "domain": [0.1, 10], "nice": false}, "axis": {"title": "FREQUENCY (Hz)", "values": [0.1,0.2,0.3,0.4,0.5,0.6,0.7,0.8,0.9,1,2,3,4,5,6,7,8,9,10], "labelExpr": "datum.value==0.1?'0.1':datum.value==1?'1':datum.value==10?'10':''", "labelPadding": 6, "titlePadding": 8}},
      "y": {"field": "y", "type": "quantitative", "scale": {"type": "log", "domain": [10, 1000], "nice": false}, "axis": {"title": "OUTPUT NOISE (V/√Hz)", "values": [10,20,30,40,50,60,70,80,90,100,200,300,400,500,600,700,800,900,1000], "labelExpr": "datum.value==10?'10':datum.value==100?'100':datum.value==1000?'1k':''", "labelPadding": 7, "titlePadding": 8}}
     },
     "layer": [
      {"data": {"values": [{"x": 0.1, "x2": 0.52, "y": 10, "y2": 35.3}]}, "mark": {"type": "rect", "color": "#ffffff"},
       "encoding": {"x2": {"field": "x2"}, "y2": {"field": "y2"}}},
      {"data": {"name": "g35"}, "mark": {"type": "line", "interpolate": "monotone", "strokeWidth": 2.6},
       "encoding": {
        "color": {"field": "s", "type": "nominal", "scale": {"domain": ["VIN = 0.3V", "VIN = 3.3V"], "range": ["#B3122E", "#2D5BAA"]},
         "legend": {"orient": "top-right", "title": null, "fillColor": "#ffffff", "padding": 6, "offset": 1, "symbolType": "M0,0H8", "symbolSize": 64, "symbolStrokeWidth": 3, "labelOffset": 33, "rowPadding": 3.2, "labelFontSize": 14, "labelLimit": 0}},
        "strokeDash": {"field": "s", "type": "nominal", "scale": {"domain": ["VIN = 0.3V", "VIN = 3.3V"], "range": [[1,0],[12,6]]}}}},
      {"data": {"values": [{"x": 0.112, "y": 31.5, "t": "V⁺ = VIN + 2V\nCIN = 4.7µF\nCOUT = 4.7µF\nILOAD = 200mA"}]},
       "mark": {"type": "text", "align": "left", "baseline": "top", "fontSize": 14, "lineHeight": 17, "lineBreak": "\n"},
       "encoding": {"text": {"field": "t"}}},
      {"data": {"values": [{"x": 10, "y": 4.4, "t": "3040 G35"}]},
       "mark": {"type": "text", "align": "right", "baseline": "middle", "fontSize": 8},
       "encoding": {"text": {"field": "t"}}}
     ]},
    {"width": 277, "height": 275, "view": {"stroke": "#000000", "strokeWidth": 2},
     "title": {"text": ["Integrated RMS Output Noise", "(10Hz to 100kHz)"]},
     "encoding": {
      "x": {"field": "x", "type": "quantitative", "scale": {"domain": [0, 200], "nice": false, "zero": false}, "axis": {"title": "LOAD CURRENT (mA)", "values": [0,20,40,60,80,100,120,140,160,180,200], "labelPadding": 6, "titlePadding": 8}},
      "y": {"field": "y", "type": "quantitative", "scale": {"domain": [0, 2], "nice": false, "zero": false}, "axis": {"title": "RMS OUTPUT NOISE (µVRMS)", "values": [0,0.2,0.4,0.6,0.8,1,1.2,1.4,1.6,1.8,2], "labelExpr": "datum.value==0?'0':format(datum.value,'.1f')", "labelPadding": 7, "titlePadding": 8}}
     },
     "layer": [
      {"data": {"values": [{"x": 0, "x2": 88, "y": 0, "y2": 0.55}]}, "mark": {"type": "rect", "color": "#ffffff"},
       "encoding": {"x2": {"field": "x2"}, "y2": {"field": "y2"}}},
      {"data": {"name": "g36"}, "mark": {"type": "line", "interpolate": "monotone", "strokeWidth": 2.6, "color": "#B3122E"}, "encoding": {}},
      {"data": {"values": [{"x": 3, "y": 0.51, "t": "V⁺ = 4.5V BATTERY\nVIN = 3.3V\nCIN = 4.7µF\nCOUT = 4.7µF"}]},
       "mark": {"type": "text", "align": "left", "baseline": "top", "fontSize": 14, "lineHeight": 17, "lineBreak": "\n"},
       "encoding": {"text": {"field": "t"}}},
      {"data": {"values": [{"x": 200, "y": -0.356, "t": "3040 G36"}]},
       "mark": {"type": "text", "align": "right", "baseline": "middle", "fontSize": 8},
       "encoding": {"text": {"field": "t"}}}
     ]}
   ], "columns": 3, "spacing": {"row": 150, "column": 93}, "bounds": "flush",
   "resolve": {"scale": {"color": "independent", "strokeDash": "independent"}}}
  ], "spacing": 60, "bounds": "flush"},
 {"width": 1, "height": 42, "data": {"values": []}, "mark": "point", "view": {"stroke": null}},
 {"width": 1088, "height": 7, "data": {"values": []}, "mark": "point", "view": {"fill": "#000000", "stroke": null},
  "title": {"text": "Rev. 0", "anchor": "end", "fontSize": 12, "fontWeight": "normal", "color": "#231f20", "baseline": "bottom", "offset": -4.5}},
 {"width": 1088, "height": 60, "view": {"stroke": null},
  "layer": [
   {"data": {"values": [{"t": "9"}]}, "mark": {"type": "text", "align": "right", "baseline": "alphabetic", "fontSize": 64, "fontWeight": 300, "color": "#000000"},
    "encoding": {"x": {"datum": 1, "type": "quantitative", "scale": {"domain": [0, 1]}, "axis": null}, "y": {"datum": 0.15, "type": "quantitative", "scale": {"domain": [0, 1]}, "axis": null}, "text": {"field": "t"}}},
   {"data": {"values": [{"t": "For more information"}]}, "mark": {"type": "text", "align": "right", "baseline": "alphabetic", "fontSize": 16, "dx": -2, "color": "#231f20"},
    "encoding": {"x": {"datum": 0.512, "type": "quantitative", "scale": {"domain": [0, 1]}, "axis": null}, "y": {"datum": 0.13, "type": "quantitative", "scale": {"domain": [0, 1]}, "axis": null}, "text": {"field": "t"}}},
   {"data": {"values": [{"t": "www.analog.com"}]}, "mark": {"type": "text", "align": "left", "baseline": "alphabetic", "fontSize": 16, "dx": 3, "color": "#1a1aff"},
    "encoding": {"x": {"datum": 0.512, "type": "quantitative", "scale": {"domain": [0, 1]}, "axis": null}, "y": {"datum": 0.13, "type": "quantitative", "scale": {"domain": [0, 1]}, "axis": null}, "text": {"field": "t"}}}
  ]}
]
}
